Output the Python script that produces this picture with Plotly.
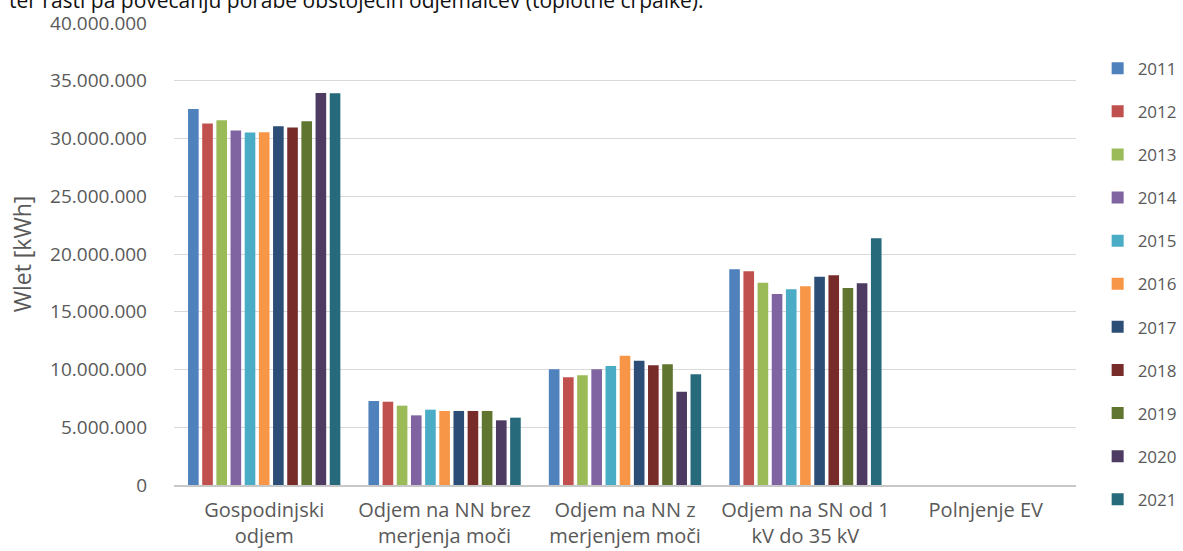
import plotly.graph_objects as go

# Consumer categories on the x axis
categories = [
    "Gospodinjski<br>odjem",
    "Odjem na NN brez<br>merjenja moči",
    "Odjem na NN z<br>merjenjem moči",
    "Odjem na SN od 1<br>kV do 35 kV",
    "Polnjenje EV",
]

years = ["2011", "2012", "2013", "2014", "2015", "2016",
         "2017", "2018", "2019", "2020", "2021"]

# Annual energy Wlet [kWh] per category, one list per year
w_2011 = [32_550_000, 7_270_000, 10_020_000, 18_670_000, 0]
w_2012 = [31_300_000, 7_210_000, 9_320_000, 18_500_000, 0]
w_2013 = [31_580_000, 6_870_000, 9_500_000, 17_520_000, 0]
w_2014 = [30_700_000, 6_030_000, 10_020_000, 16_540_000, 0]
w_2015 = [30_520_000, 6_520_000, 10_300_000, 16_940_000, 0]
w_2016 = [30_550_000, 6_410_000, 11_200_000, 17_200_000, 0]
w_2017 = [31_050_000, 6_410_000, 10_760_000, 18_040_000, 0]
w_2018 = [30_950_000, 6_410_000, 10_360_000, 18_150_000, 0]
w_2019 = [31_500_000, 6_410_000, 10_450_000, 17_060_000, 0]
w_2020 = [33_950_000, 5_600_000, 8_080_000, 17_460_000, 0]
w_2021 = [33_920_000, 5_830_000, 9_580_000, 21_360_000, 0]

series = [w_2011, w_2012, w_2013, w_2014, w_2015, w_2016,
          w_2017, w_2018, w_2019, w_2020, w_2021]

colors = ["#4F81BD", "#C0504D", "#9BBB59", "#8064A2", "#4BACC6", "#F79646",
          "#2C4D75", "#772C2A", "#5F7530", "#4D3B62", "#276A7C"]

y_ticks = [0, 5_000_000, 10_000_000, 15_000_000, 20_000_000,
           25_000_000, 30_000_000, 35_000_000, 40_000_000]
y_tick_labels = ["0", "5.000.000", "10.000.000", "15.000.000", "20.000.000",
                 "25.000.000", "30.000.000", "35.000.000", "40.000.000"]

FONT = "Open Sans"
GREY = "#595959"

fig = go.Figure()
for year, values, color in zip(years, series, colors):
    fig.add_trace(go.Bar(
        name=year,
        x=categories,
        y=values,
        marker=dict(color=color, line=dict(width=0)),
        legendgroup=year,
    ))

fig.update_layout(
    width=1183,
    height=551,
    barmode="group",
    bargap=0.136,
    bargroupgap=0.25,
    plot_bgcolor="white",
    paper_bgcolor="white",
    margin=dict(l=174, r=107, t=23, b=66, autoexpand=False),
    font=dict(family=FONT, color=GREY, size=17),
    showlegend=True,
    legend=dict(
        x=1.024, xanchor="left", xref="paper",
        y=0.94, yanchor="top",
        font=dict(family=FONT, size=17, color=GREY),
        tracegroupgap=18,
        itemwidth=30,
        maxheight=540,
        bgcolor="rgba(0,0,0,0)",
    ),
    xaxis=dict(
        showgrid=False,
        showline=True,
        linecolor="#c8c8c8",
        linewidth=1.5,
        ticks="",
        ticklabelstandoff=6,
        tickfont=dict(family=FONT, size=20, color=GREY),
    ),
    yaxis=dict(
        range=[0, 40_000_000],
        tickvals=y_ticks,
        ticktext=y_tick_labels,
        showgrid=True,
        gridcolor="#d9d9d9",
        gridwidth=1,
        zeroline=False,
        showline=False,
        ticks="",
        ticklabelstandoff=26,
        tickfont=dict(family=FONT, size=19, color=GREY),
        title=dict(text="Wlet [kWh]", font=dict(family=FONT, size=23, color=GREY),
                   standoff=12),
    ),
    annotations=[
        dict(
            text="ter rasti pa povečanju porabe obstoječih odjemalcev (toplotne črpalke).",
            xref="paper", yref="paper",
            x=-0.185, y=1.0,
            xanchor="left", yanchor="middle",
            yshift=23,
            showarrow=False,
            font=dict(family=FONT, size=21, color="#111111"),
        )
    ],
)

fig.write_html("out.html")
